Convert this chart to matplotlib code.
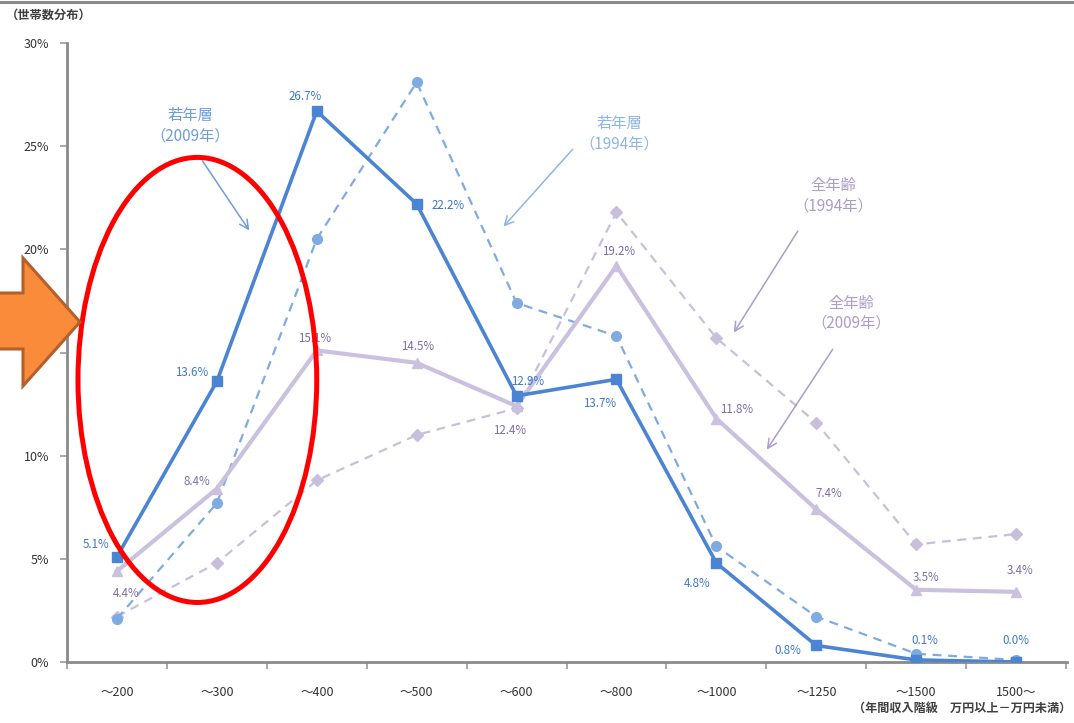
import matplotlib
matplotlib.use("Agg")
import matplotlib.pyplot as plt
from matplotlib.patches import Ellipse, Polygon
from matplotlib.lines import Line2D

plt.rcParams['font.family'] = ['Noto Sans CJK JP', 'DejaVu Sans']

# 年間収入階級
categories = ["～200", "～300", "～400", "～500", "～600", "～800",
              "～1000", "～1250", "～1500", "1500～"]

# 世帯数分布（%）
young_2009 = [5.1, 13.6, 26.7, 22.2, 12.9, 13.7, 4.8, 0.8, 0.1, 0.0]
young_1994 = [2.1, 7.7, 20.5, 28.1, 17.4, 15.8, 5.6, 2.2, 0.4, 0.1]
all_2009 = [4.4, 8.4, 15.1, 14.5, 12.4, 19.2, 11.8, 7.4, 3.5, 3.4]
all_1994 = [2.2, 4.8, 8.8, 11.0, 12.3, 21.8, 15.7, 11.6, 5.7, 6.2]

yticks = [0, 5, 10, 15, 20, 25, 30]

W, H = 1074, 723
fig = plt.figure(figsize=(W / 100, H / 100), dpi=100)
ax = fig.add_axes([67 / W, (H - 662) / H, 1000 / W, 619 / H])

x = list(range(len(categories)))

BLUE = "#4A84D2"
BLUE_D = "#7FABE2"
LAV = "#C9C1DE"
LAV_D = "#C8BFDC"
BLUE_TXT = "#3E78C6"
LAV_TXT = "#7D6DA5"

ax.plot(x, all_1994, color=LAV_D, lw=1.6, ls=(0, (4, 3)), marker="D", ms=6,
        mfc=LAV_D, mec=LAV_D, zorder=2)
ax.plot(x, young_1994, color=BLUE_D, lw=1.6, ls=(0, (4, 3)), marker="o", ms=7,
        mfc=BLUE_D, mec=BLUE_D, zorder=3)
ax.plot(x, all_2009, color=LAV, lw=3.0, marker="^", ms=7,
        mfc=LAV, mec=LAV, zorder=4)
ax.plot(x, young_2009, color=BLUE, lw=2.6, marker="s", ms=6.5,
        mfc=BLUE, mec=BLUE, zorder=5)

# data labels (offsets in pixels)
young_off = [(-21, 12), (-25, 9), (-12, 15), (31, -2), (11, 14),
             (-17, -24), (-19, -21), (-28, -5), (9, 19), (0, 21)]
all_off = [(9, -22), (-20, 7), (-2, 12), (1, 16), (-7, -24),
           (2, 14), (20, 9), (13, 16), (10, 12), (4, 21)]
for i, v in enumerate(young_2009):
    ax.annotate(f"{v:.1f}%", (i, v), xytext=young_off[i], textcoords="offset pixels",
                ha="center", va="center", fontsize=8.3, color=BLUE_TXT, zorder=8)
for i, v in enumerate(all_2009):
    ax.annotate(f"{v:.1f}%", (i, v), xytext=all_off[i], textcoords="offset pixels",
                ha="center", va="center", fontsize=8.3, color=LAV_TXT, zorder=8)

ax.set_xlim(-0.5, 9.51)
ax.set_ylim(0, 30)
ax.set_yticks(yticks)
ax.set_yticklabels([f"{t}%" for t in yticks], fontsize=9, color="#333333")
ax.set_xticks(x)
ax.set_xticklabels(categories, fontsize=9, color="#333333")
ax.set_xticks([i - 0.5 for i in range(len(categories) + 1)], minor=True)
ax.tick_params(axis="x", which="major", length=0, pad=17)
ax.tick_params(axis="x", which="minor", length=5, width=1.2, color="#9A9A9A")
ax.tick_params(axis="y", length=5, width=1.2, color="#9A9A9A", pad=8)
for s in ("top", "right"):
    ax.spines[s].set_visible(False)
for s in ("left", "bottom"):
    ax.spines[s].set_color("#8A8A8A")
    ax.spines[s].set_linewidth(2)

# series callouts
def callout(text, txy, tail, tip, tcolor, acolor):
    ax.text(txy[0], txy[1], text, ha="center", va="center", fontsize=11,
            color=tcolor, linespacing=1.25, zorder=9)
    ax.annotate("", xy=tip, xytext=tail,
                arrowprops=dict(arrowstyle="->", color=acolor, lw=1.1,
                                mutation_scale=16), zorder=9)

callout("若年層\n（2009年）", (0.73, 26.0), (0.84, 24.4), (1.34, 20.8), "#6D9DDA", "#6D9DDA")
callout("若年層\n（1994年）", (5.03, 25.6), (4.58, 24.95), (3.85, 21.0), "#90B5E5", "#90B5E5")
callout("全年齢\n（1994年）", (7.17, 22.6), (6.83, 21.0), (6.16, 15.85), "#AA9DCA", "#AA9DCA")
callout("全年齢\n（2009年）", (7.35, 16.9), (7.18, 15.27), (6.49, 10.18), "#AA9DCA", "#AA9DCA")

# highlight ellipse
ax.add_patch(Ellipse((0.805, 13.67), 2.39, 21.57, fill=False, ec="#FF0000",
                     lw=3.6, zorder=10, clip_on=False))

# pointer arrow at the left edge
pts_px = [(-5, 293), (23, 293), (23, 258), (80, 322), (23, 386), (23, 349), (-5, 349)]
pts = [(px / W, 1 - py / H) for px, py in pts_px]
fig.add_artist(Polygon(pts, closed=True, fc="#F98B3A", ec="#B4602A", lw=2.2,
                       transform=fig.transFigure, zorder=20))

# axis captions
fig.text(6 / W, 1 - 15 / H, "（世帯数分布）", fontsize=8.8, fontweight="bold",
         color="#404040", ha="left", va="center")
fig.text(1071 / W, 1 - 708 / H, "（年間収入階級　万円以上－万円未満）", fontsize=8.7,
         fontweight="bold", color="#404040", ha="right", va="center")

# frame line along the top
fig.add_artist(Line2D([0, 1], [1 - 1.5 / H, 1 - 1.5 / H], color="#8A8A8A", lw=2.2,
                      transform=fig.transFigure))

fig.savefig("out.png", dpi=100)
